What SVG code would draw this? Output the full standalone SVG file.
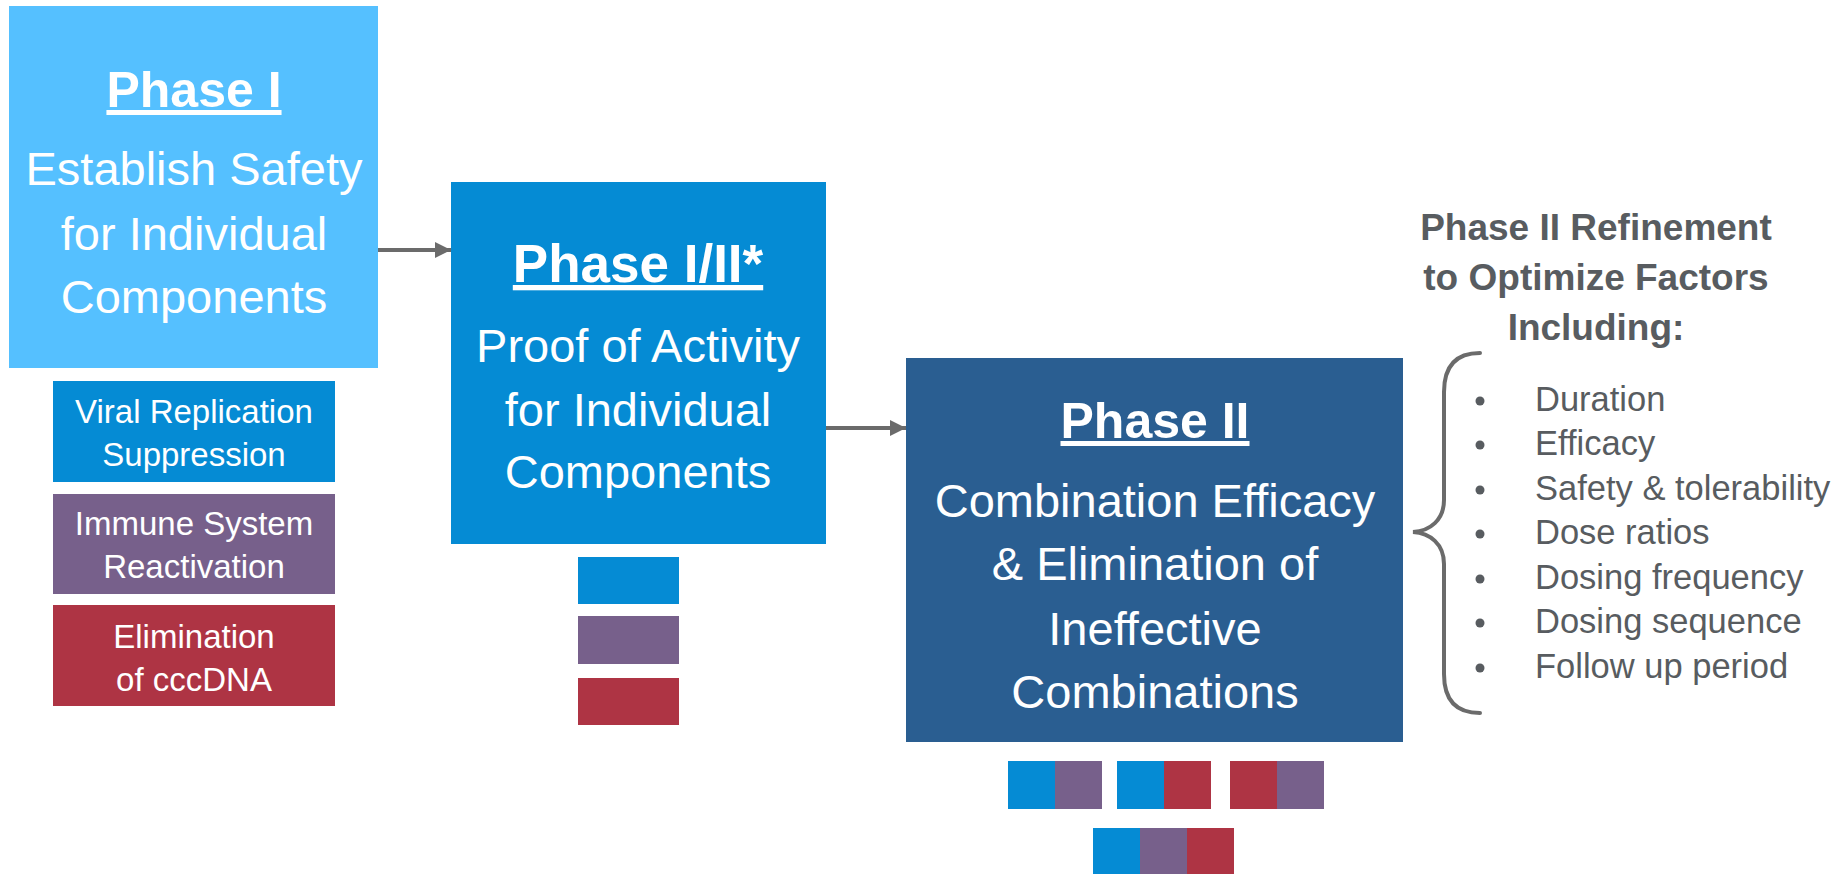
<svg xmlns="http://www.w3.org/2000/svg" width="1843" height="874" viewBox="0 0 1843 874">
  <defs>
    <style>
      .txt { font-family: "Liberation Sans", Arial, sans-serif; fill: #ffffff; text-anchor: middle; }
      .title { font-size: 50px; font-weight: bold; text-decoration: underline; }
      .body { font-size: 47px; }
      .tag { font-size: 33px; }
      .side { font-family: "Liberation Sans", Arial, sans-serif; fill: #585c60; }
      .head { font-size: 37px; font-weight: bold; text-anchor: middle; }
      .item { font-size: 34.5px; }
      .c-blue { fill: #058bd4; }
      .c-purple { fill: #77608b; }
      .c-red { fill: #ae3444; }
      .conn { stroke: #6b6b6b; stroke-width: 4; fill: none; }
    </style>
    <marker id="arrow" viewBox="0 0 16 16" refX="16" refY="8" markerWidth="16" markerHeight="16" markerUnits="userSpaceOnUse" orient="auto">
      <path d="M0,0 L16,8 L0,16 Z" fill="#6b6b6b"/>
    </marker>
  </defs>

  <rect width="1843" height="874" fill="#ffffff"/>

  <!-- Connectors between phases -->
  <g id="connectors">
    <line class="conn" x1="378" y1="250" x2="451" y2="250" marker-end="url(#arrow)"/>
    <line class="conn" x1="826" y1="428" x2="906" y2="428" marker-end="url(#arrow)"/>
  </g>

  <!-- Phase I -->
  <g id="phase1">
    <rect x="9" y="6" width="369" height="362" fill="#55c0ff"/>
    <text class="txt title" x="194" y="107">Phase I</text>
    <text class="txt body" x="194" y="185">Establish Safety</text>
    <text class="txt body" x="194" y="250">for Individual</text>
    <text class="txt body" x="194" y="313">Components</text>
  </g>

  <!-- Component categories -->
  <g id="cat-viral">
    <rect class="c-blue" x="53" y="381" width="282" height="101"/>
    <text class="txt tag" x="194" y="423">Viral Replication</text>
    <text class="txt tag" x="194" y="466">Suppression</text>
  </g>
  <g id="cat-immune">
    <rect class="c-purple" x="53" y="494" width="282" height="100"/>
    <text class="txt tag" x="194" y="535">Immune System</text>
    <text class="txt tag" x="194" y="578">Reactivation</text>
  </g>
  <g id="cat-cccdna">
    <rect class="c-red" x="53" y="605" width="282" height="101"/>
    <text class="txt tag" x="194" y="648">Elimination</text>
    <text class="txt tag" x="194" y="691">of cccDNA</text>
  </g>

  <!-- Phase I/II -->
  <g id="phase1-2">
    <rect x="451" y="182" width="375" height="362" fill="#058bd4"/>
    <text class="txt title" x="638" y="282" style="font-size:53px">Phase I/II*</text>
    <text class="txt body" x="638" y="362">Proof of Activity</text>
    <text class="txt body" x="638" y="426">for Individual</text>
    <text class="txt body" x="638" y="488">Components</text>
  </g>
  <g id="single-swatches">
    <rect class="c-blue" x="578" y="557" width="101" height="47"/>
    <rect class="c-purple" x="578" y="616" width="101" height="48"/>
    <rect class="c-red" x="578" y="678" width="101" height="47"/>
  </g>

  <!-- Phase II -->
  <g id="phase2">
    <rect x="906" y="358" width="497" height="384" fill="#2a5e91"/>
    <text class="txt title" x="1155" y="438">Phase II</text>
    <text class="txt body" x="1155" y="517">Combination Efficacy</text>
    <text class="txt body" x="1155" y="580">&amp; Elimination of</text>
    <text class="txt body" x="1155" y="645">Ineffective</text>
    <text class="txt body" x="1155" y="708">Combinations</text>
  </g>
  <g id="combo-swatches">
    <rect class="c-blue" x="1008" y="761" width="47" height="48"/>
    <rect class="c-purple" x="1055" y="761" width="47" height="48"/>
    <rect class="c-blue" x="1117" y="761" width="47" height="48"/>
    <rect class="c-red" x="1164" y="761" width="47" height="48"/>
    <rect class="c-red" x="1230" y="761" width="47" height="48"/>
    <rect class="c-purple" x="1277" y="761" width="47" height="48"/>
    <rect class="c-blue" x="1093" y="828" width="47" height="46"/>
    <rect class="c-purple" x="1140" y="828" width="47" height="46"/>
    <rect class="c-red" x="1187" y="828" width="47" height="46"/>
  </g>

  <!-- Phase II refinement notes -->
  <g id="refinement">
    <text class="side head" x="1596" y="240">Phase II Refinement</text>
    <text class="side head" x="1596" y="290">to Optimize Factors</text>
    <text class="side head" x="1596" y="340">Including:</text>
    <path class="conn" stroke-width="4.5" stroke-linecap="round"
          d="M1480,353 C1458,353 1444,364 1444,392 L1444,500 C1444,520 1430,531 1413,532 C1430,533 1444,544 1444,564 L1444,674 C1444,702 1458,713 1480,713"/>
    <g class="side item">
      <circle cx="1480" cy="401" r="4.5"/>
      <text x="1535" y="411">Duration</text>
      <circle cx="1480" cy="445" r="4.5"/>
      <text x="1535" y="455">Efficacy</text>
      <circle cx="1480" cy="490" r="4.5"/>
      <text x="1535" y="500">Safety &amp; tolerability</text>
      <circle cx="1480" cy="534" r="4.5"/>
      <text x="1535" y="544">Dose ratios</text>
      <circle cx="1480" cy="579" r="4.5"/>
      <text x="1535" y="589">Dosing frequency</text>
      <circle cx="1480" cy="623" r="4.5"/>
      <text x="1535" y="633">Dosing sequence</text>
      <circle cx="1480" cy="668" r="4.5"/>
      <text x="1535" y="678">Follow up period</text>
    </g>
  </g>
</svg>
